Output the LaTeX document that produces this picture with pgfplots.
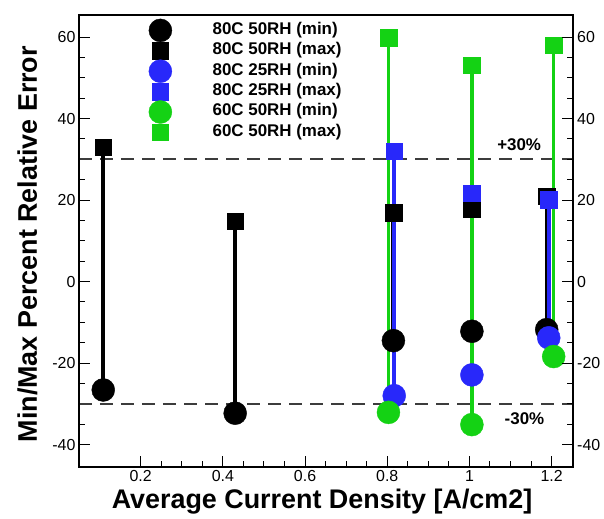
\documentclass[border=0pt]{standalone}
\usepackage{fontspec}
\setmainfont{Liberation Sans}
\usepackage{pgfplots}
\pgfplotsset{compat=1.18}
\definecolor{ptblue}{RGB}{40,40,250}
\definecolor{ptgreen}{RGB}{20,210,20}
\definecolor{refgray}{RGB}{60,60,60}
\pgfplotsset{
  relerr/.style={
    scale only axis, width=494bp, height=452bp,
    xmin=0.05, xmax=1.252, ymin=-45.5, ymax=65.4,
    xtick={0.2,0.4,0.6,0.8,1,1.2}, ytick={-40,-20,0,20,40,60},
    minor x tick num=3, minor y tick num=3,
    tick align=inside, major tick length=11bp, minor tick length=6bp,
    axis line style={line width=1.2bp}, tick style={line width=1bp, black},
    tick label style={font=\fontsize{16}{18}\selectfont},
    /pgf/number format/assume math mode=true,
  },
}

\begin{document}
\begin{tikzpicture}
\begin{axis}[relerr, name=main, xtick pos=bottom, ytick pos=left,
  xlabel={Average Current Density [A/cm2]},
  ylabel={Min/Max Percent Relative Error},
  label style={font=\bfseries\fontsize{27}{30}\selectfont},
  xlabel style={at={(axis description cs:0.492,-0.077)}, anchor=center},
  ylabel style={at={(axis description cs:-0.1045,0.493)}, anchor=center},
  legend style={draw=none, fill=none, inner sep=0pt, row sep=4bp,
    at={(axis description cs:0.1356,0.9845)}, anchor=north west,
    font=\bfseries\fontsize{17}{20}\selectfont,
    nodes={inner sep=0pt, text height=12bp, text depth=4bp}},
  legend cell align=left,
  legend image code/.code={\path (-14bp,-8bp) (52bp,8bp);
    \draw[#1, overlay] plot coordinates {(0bp,0bp)};},
]
  \draw[refgray, line width=1.8bp, dash pattern=on 13bp off 8bp] (axis cs:0.05,30) -- (axis cs:1.252,30);
  \draw[refgray, line width=1.8bp, dash pattern=on 13bp off 8bp] (axis cs:0.05,-30) -- (axis cs:1.252,-30);

  % 80C 50RH
  \addplot[black, line width=4bp, forget plot, unbounded coords=jump] coordinates {
    (0.109,-26.6) (0.109,33.0) (0.109,nan)
    (0.43,-32.3) (0.43,14.8) (0.43,nan)
    (0.815,-14.5) (0.815,16.9) (0.815,nan)
    (1.006,-12.2) (1.006,17.9) (1.006,nan)
    (1.188,-11.8) (1.188,20.9)};
  \addplot[only marks, mark=*, mark size=11.5bp, black] coordinates {
    (0.109,-26.6) (0.43,-32.3) (0.815,-14.5) (1.006,-12.2) (1.188,-11.8)};
  \addlegendentry{80C 50RH (min)}
  \addplot[only marks, mark=square*, mark size=8.3bp, black] coordinates {
    (0.109,33.0) (0.43,14.8) (0.815,16.9) (1.006,17.9) (1.188,20.9)};
  \addlegendentry{80C 50RH (max)}

  % 80C 25RH
  \addplot[ptblue, line width=3.5bp, forget plot, unbounded coords=jump] coordinates {
    (0.817,-28.0) (0.817,32.0) (0.817,nan)
    (1.006,-22.9) (1.006,21.7) (1.006,nan)
    (1.193,-13.8) (1.193,20.1)};
  \addplot[only marks, mark=*, mark size=11.5bp, ptblue] coordinates {
    (0.817,-28.0) (1.006,-22.9) (1.193,-13.8)};
  \addlegendentry{80C 25RH (min)}
  \addplot[only marks, mark=square*, mark size=8.3bp, ptblue] coordinates {
    (0.817,32.0) (1.006,21.7) (1.193,20.1)};
  \addlegendentry{80C 25RH (max)}

  % 60C 50RH
  \addplot[ptgreen, line width=3.5bp, forget plot, unbounded coords=jump] coordinates {
    (0.803,-32.1) (0.803,59.8) (0.803,nan)
    (1.006,-35.1) (1.006,53.1) (1.006,nan)
    (1.205,-18.4) (1.205,58.0)};
  \addplot[only marks, mark=*, mark size=11.5bp, ptgreen] coordinates {
    (0.803,-32.1) (1.006,-35.1) (1.205,-18.4)};
  \addlegendentry{60C 50RH (min)}
  \addplot[only marks, mark=square*, mark size=8.3bp, ptgreen] coordinates {
    (0.803,59.8) (1.006,53.1) (1.205,58.0)};
  \addlegendentry{60C 50RH (max)}

  \node[font=\bfseries\fontsize{17}{20}\selectfont] at (axis cs:1.121,33.6) {+30\%};
  \node[font=\bfseries\fontsize{17}{20}\selectfont] at (axis cs:1.134,-33.6) {-30\%};
\end{axis}
\begin{axis}[relerr, xtick=\empty, ytick pos=right, yticklabel pos=right,
  yticklabel style={anchor=west, inner xsep=4bp}]
\end{axis}
\pgfresetboundingbox
\path ([shift={(-79bp,-52bp)}]main.south west) rectangle ([shift={(31bp,15bp)}]main.north east);
\end{tikzpicture}
\end{document}
